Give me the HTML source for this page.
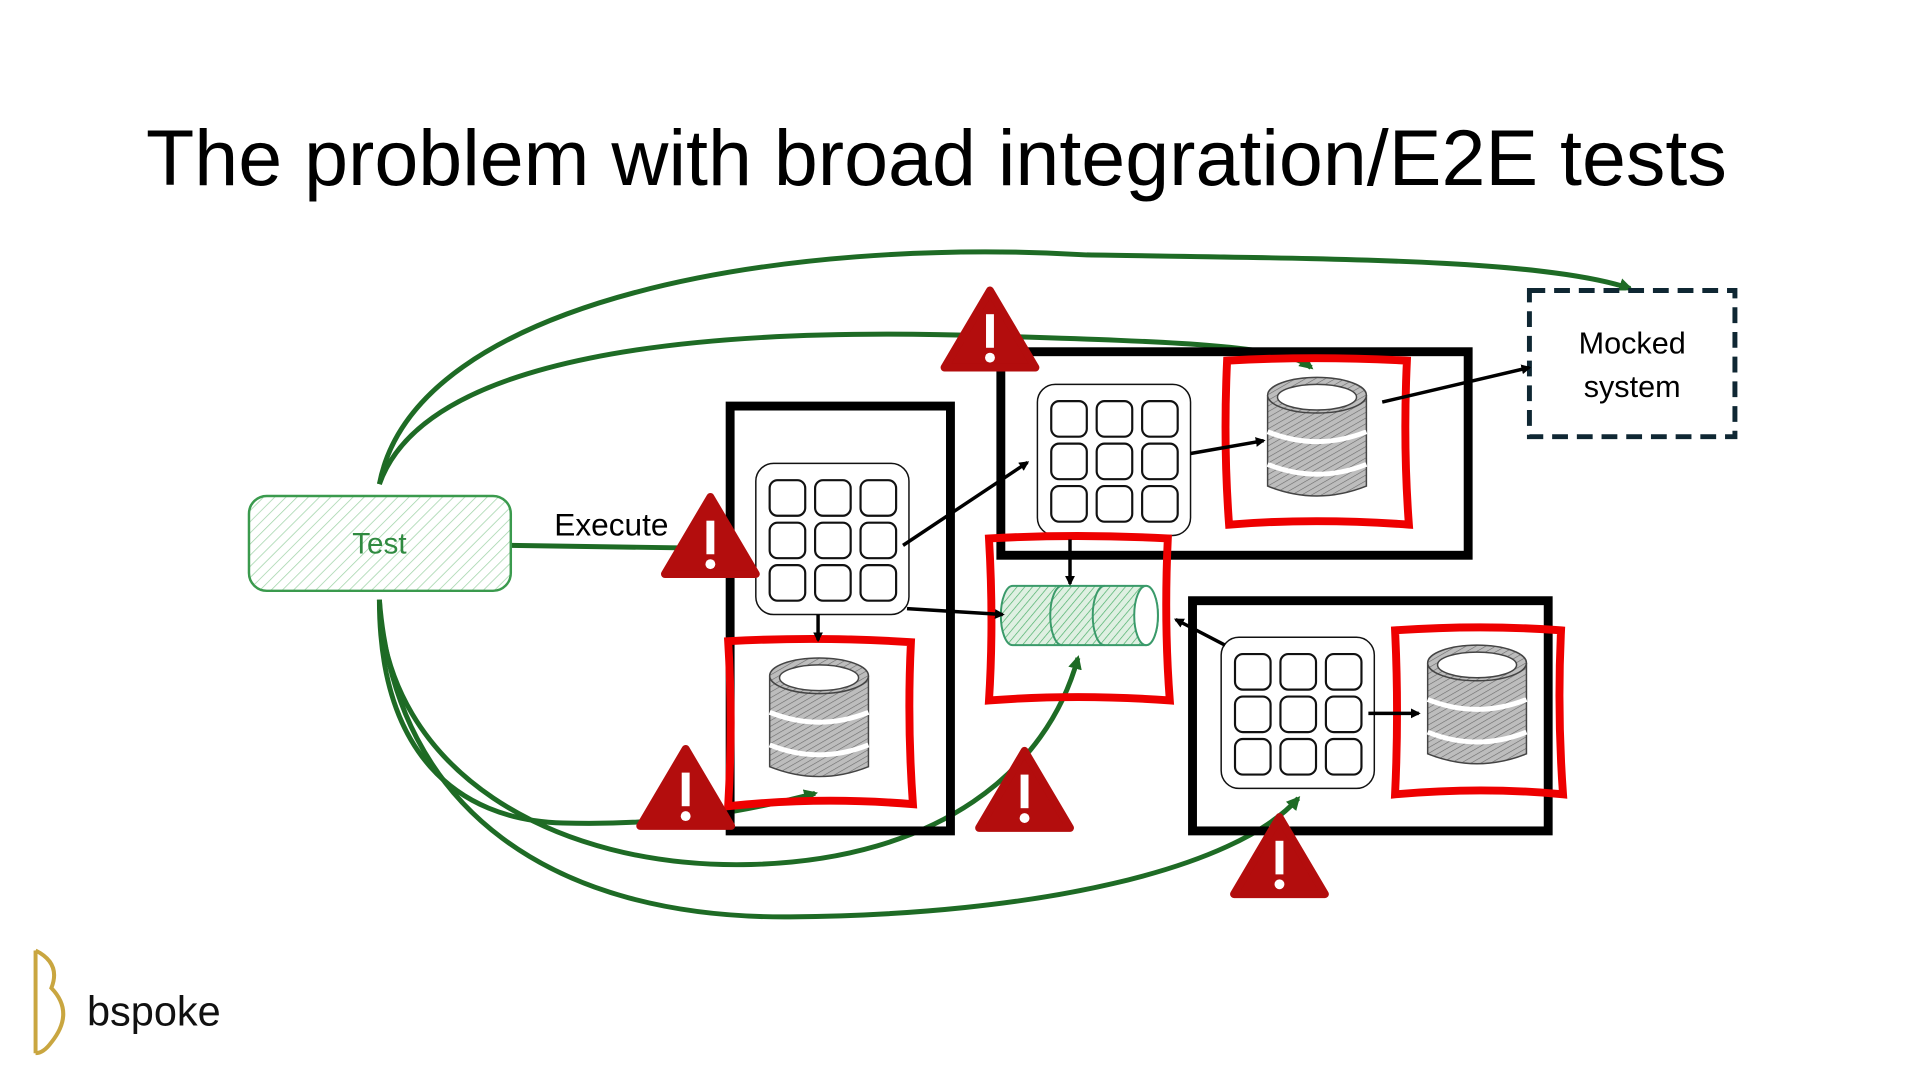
<!DOCTYPE html>
<html><head><meta charset="utf-8"><style>
html,body{margin:0;padding:0;background:#fff;width:1920px;height:1080px;overflow:hidden}
svg{display:block}
</style></head><body>
<svg width="1920" height="1080" viewBox="0 0 1920 1080" xmlns="http://www.w3.org/2000/svg">
<defs>
<pattern id="hg" width="8" height="8" patternUnits="userSpaceOnUse" patternTransform="rotate(45)"><line x1="0" y1="0" x2="0" y2="8" stroke="#9fd3a8" stroke-width="1.5"/></pattern>
<pattern id="hq" width="6" height="6" patternUnits="userSpaceOnUse" patternTransform="rotate(40)"><rect width="6" height="6" fill="#dff0e2"/><line x1="0" y1="0" x2="0" y2="6" stroke="#4caf6a" stroke-width="1.4"/></pattern>
<pattern id="hd" width="5" height="5" patternUnits="userSpaceOnUse" patternTransform="rotate(60)"><rect width="5" height="5" fill="#bdbdbd"/><line x1="0" y1="0" x2="0" y2="5" stroke="#6a6a6a" stroke-width="1.2"/></pattern>
<marker id="ab" markerWidth="10" markerHeight="10" refX="8" refY="5" orient="auto" markerUnits="userSpaceOnUse"><path d="M0,0 L10,5 L0,10 z" fill="#000"/></marker>
<marker id="ag" markerWidth="14" markerHeight="14" refX="11" refY="7" orient="auto" markerUnits="userSpaceOnUse"><path d="M0,0 L14,7 L0,14 z" fill="#1e6b25"/></marker>
<g id="db">
 <path d="M0,18 L0,110 Q50,130 100,110 L100,18" fill="url(#hd)" stroke="#444" stroke-width="1.5"/>
 <path d="M0,55 Q50,75 100,55" fill="none" stroke="#fff" stroke-width="5"/>
 <path d="M0,88 Q50,108 100,88" fill="none" stroke="#fff" stroke-width="5"/>
 <ellipse cx="50" cy="18" rx="50" ry="18" fill="url(#hd)" stroke="#444" stroke-width="1.5"/>
 <ellipse cx="50" cy="20" rx="40" ry="13" fill="#fff" stroke="#444" stroke-width="1.5"/>
</g>
<g id="app">
 <rect x="0" y="0" width="155" height="153" rx="18" fill="#fff" stroke="#111" stroke-width="1.5"/>
 <g fill="#fff" stroke="#111" stroke-width="2.2">
 <rect x="14" y="17" width="36" height="36" rx="8"/><rect x="60" y="17" width="36" height="36" rx="8"/><rect x="106" y="17" width="36" height="36" rx="8"/>
 <rect x="14" y="60" width="36" height="36" rx="8"/><rect x="60" y="60" width="36" height="36" rx="8"/><rect x="106" y="60" width="36" height="36" rx="8"/>
 <rect x="14" y="103" width="36" height="36" rx="8"/><rect x="60" y="103" width="36" height="36" rx="8"/><rect x="106" y="103" width="36" height="36" rx="8"/>
 </g>
</g>
<g id="warn">
 <path d="M0,-78 L46,0 L-46,0 z" fill="#b30d0d" stroke="#b30d0d" stroke-width="8" stroke-linejoin="round"/>
 <rect x="-4" y="-54" width="8" height="34" fill="#fff"/>
 <circle cx="0" cy="-10" r="5" fill="#fff"/>
</g>
</defs>

<text x="146" y="185" font-family="Liberation Sans, sans-serif" font-size="79" fill="#000">The problem with broad integration/E2E tests</text>

<g transform="scale(0.988)">
<!-- green curves -->
<g fill="none" stroke="#1e6b25" stroke-width="5">
 <path d="M384,490 C420,300 800,240 1100,258 C1350,262 1560,262 1650,292" marker-end="url(#ag)"/>
 <path d="M384,490 C430,360 700,330 1000,340 C1200,346 1300,350 1327,372" marker-end="url(#ag)"/>
 <path d="M517,552 L720,555"/>
 <path d="M384,607 C384,760 460,830 570,833 C680,836 760,820 825,803" marker-end="url(#ag)"/>
 <path d="M384,607 C390,780 560,880 760,875 C950,870 1060,780 1091,666" marker-end="url(#ag)"/>
 <path d="M384,607 C400,820 560,930 800,928 C1050,926 1250,880 1314,808" marker-end="url(#ag)"/>
</g>

<rect x="252" y="502" width="265" height="96" rx="18" fill="url(#hg)" stroke="#3a9a4d" stroke-width="2.5"/>
<text x="384" y="560" text-anchor="middle" font-family="Liberation Sans, sans-serif" font-size="30" fill="#2f8a40">Test</text>
<text x="561" y="542" font-family="Liberation Sans, sans-serif" font-size="32" fill="#000">Execute</text>

<g fill="none" stroke="#000" stroke-width="9">
 <rect x="739" y="411" width="223" height="430"/>
 <rect x="1013" y="356" width="473" height="206"/>
 <rect x="1207" y="608" width="360" height="233"/>
</g>

<rect x="1548" y="294" width="208" height="148" fill="#fff" stroke="#0f2733" stroke-width="5" stroke-dasharray="16,9"/>
<text x="1652" y="358" text-anchor="middle" font-family="Liberation Sans, sans-serif" font-size="31">Mocked</text>
<text x="1652" y="402" text-anchor="middle" font-family="Liberation Sans, sans-serif" font-size="31">system</text>

<use href="#app" x="765" y="469"/>
<use href="#app" x="1050" y="389"/>
<use href="#app" x="1236" y="645"/>

<g>
 <path d="M1025,593 L1160,593 A12,30 0 0 1 1160,653 L1025,653 A12,30 0 0 1 1025,593 z" fill="url(#hq)" stroke="#3a9a6a" stroke-width="2"/>
 <path d="M1075,593 A12,30 0 0 0 1075,653 M1118,593 A12,30 0 0 0 1118,653" fill="none" stroke="#3a9a6a" stroke-width="2"/>
 <ellipse cx="1160" cy="623" rx="12" ry="30" fill="#fff" stroke="#3a9a6a" stroke-width="2"/>
</g>

<use href="#db" x="779" y="666"/>
<use href="#db" x="1283" y="382"/>
<use href="#db" x="1445" y="653"/>

<g fill="none" stroke="#ee0000" stroke-width="8">
 <path d="M737,649 Q830,644 922,650 Q918,730 924,814 Q830,806 737,816 Q742,730 737,649 z"/>
 <path d="M1242,365 Q1330,360 1424,365 Q1420,450 1426,531 Q1330,524 1244,531 Q1238,450 1242,365 z"/>
 <path d="M1412,638 Q1500,632 1580,638 Q1576,720 1582,804 Q1500,796 1412,804 Q1416,720 1412,638 z"/>
 <path d="M1001,545 Q1090,540 1182,545 Q1178,630 1184,709 Q1090,702 1001,709 Q1006,630 1001,545 z"/>
</g>

<g stroke="#000" stroke-width="3.5" fill="none" marker-end="url(#ab)">
 <path d="M914,552 L1040,468"/>
 <path d="M918,616 L1015,622"/>
 <path d="M828,622 L828,648"/>
 <path d="M1083,546 L1083,591"/>
 <path d="M1205,459 L1279,446"/>
 <path d="M1399,407 L1548,372"/>
 <path d="M1240,653 L1190,627"/>
 <path d="M1385,722 L1436,722"/>
</g>

<use href="#warn" x="1002" y="372"/>
<use href="#warn" x="719" y="581"/>
<use href="#warn" x="694" y="836"/>
<use href="#warn" x="1037" y="838"/>
<use href="#warn" x="1295" y="905"/>

<path d="M36,962 Q62,975 52,1000 Q76,1025 52,1055 Q44,1066 36,1066 M36,962 L36,1066" fill="none" stroke="#c9a640" stroke-width="4"/>
<text x="88" y="1038" font-family="Liberation Sans, sans-serif" font-size="42" fill="#111">bspoke</text>
</g>
</svg>
</body></html>
